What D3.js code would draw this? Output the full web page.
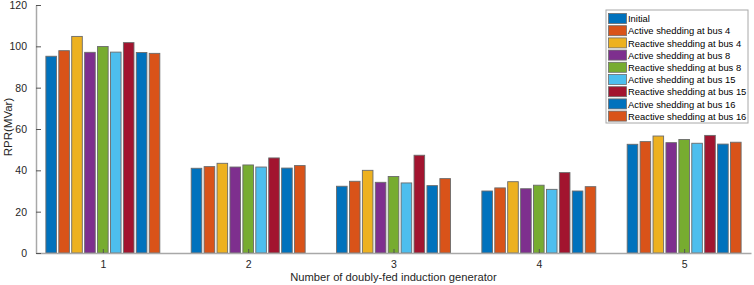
<!DOCTYPE html>
<html>
<head>
<meta charset="utf-8">
<script src="https://cdn.jsdelivr.net/npm/d3@7"></script>
<style>
  body { margin: 0; background: #fff; }
  svg { display: block; font-family: Arial, "Liberation Sans", sans-serif; }
</style>
</head>
<body>
<svg id="chart"></svg>
<script>
// Groups on the x axis
const groups = [1, 2, 3, 4, 5];

// Series names (legend order)
const series = [
    "Initial",
    "Active shedding at bus 4",
    "Reactive shedding at bus 4",
    "Active shedding at bus 8",
    "Reactive shedding at bus 8",
    "Active shedding at bus 15",
    "Reactive shedding at bus 15",
    "Active shedding at bus 16",
    "Reactive shedding at bus 16"
];

// Values per series, one per group
const initial   = [95.2, 41.0, 32.3, 30.0, 52.6];
const active4   = [97.9, 41.8, 34.7, 31.5, 53.9];
const reactive4 = [104.8, 43.4, 40.0, 34.5, 56.6];
const active8   = [97.1, 41.6, 34.2, 31.1, 53.4];
const reactive8 = [99.9, 42.6, 37.0, 32.8, 54.9];
const active15  = [97.2, 41.6, 33.9, 30.8, 53.1];
const reactive15 = [101.8, 46.0, 47.3, 38.9, 56.9];
const active16  = [97.0, 41.1, 32.6, 30.0, 52.7];
const reactive16 = [96.6, 42.3, 36.0, 32.1, 53.6];

const yTicks = [0, 20, 40, 60, 80, 100, 120];

const values = [initial, active4, reactive4, active8, reactive8,
                active15, reactive15, active16, reactive16];

const colors = ["#0072BD", "#D95319", "#EDB120", "#7E2F8E", "#77AC30",
                "#4DBEEE", "#A2142F", "#0072BD", "#D95319"];

const width = 754;
const height = 285;
const marginLeft = 36;
const marginRight = 3;
const marginTop = 5;
const marginBottom = 32;

const svg = d3.select("#chart")
    .attr("width", width)
    .attr("height", height)
    .attr("viewBox", [0, 0, width, height]);

const x = d3.scaleLinear()
    .domain([0.54, 5.46])
    .range([marginLeft, width - marginRight]);

const y = d3.scaleLinear()
    .domain([0, 120])
    .range([height - marginBottom, marginTop]);

const groupWidth = x(1.8) - x(1);
const x1 = d3.scaleBand()
    .domain(series)
    .range([0, groupWidth])
    .paddingInner(0.18)
    .paddingOuter(0.09);

const color = d3.scaleOrdinal().domain(series).range(colors);

// Bars
const rows = [];
series.forEach((s, si) => {
    groups.forEach((g, gi) => rows.push({ s, g, v: values[si][gi] }));
});

svg.append("g")
  .selectAll("rect")
  .data(rows)
  .join("rect")
    .attr("x", d => x(d.g) - groupWidth / 2 + x1(d.s))
    .attr("y", d => y(d.v))
    .attr("width", x1.bandwidth())
    .attr("height", d => y(0) - y(d.v))
    .attr("fill", d => color(d.s))
    .attr("stroke", "#6b6b6b")
    .attr("stroke-width", 0.9);

// Axes
const xAxis = svg.append("g")
    .attr("transform", `translate(0,${y(0)})`)
    .call(d3.axisBottom(x).tickValues(groups).tickFormat(d3.format("d"))
        .tickSizeInner(-4).tickSizeOuter(0).tickPadding(8));

const yAxis = svg.append("g")
    .attr("transform", `translate(${marginLeft},0)`)
    .call(d3.axisLeft(y).tickValues(yTicks)
        .tickSizeInner(-5).tickSizeOuter(0).tickPadding(9));

[xAxis, yAxis].forEach(g => {
    g.select(".domain").attr("stroke", "#a8a8a8").attr("stroke-width", 1.5);
    g.selectAll(".tick line").attr("stroke", "#555");
    g.selectAll(".tick text")
        .attr("fill", "#262626")
        .attr("font-size", 10.5)
        .attr("font-family", "Arial, 'Liberation Sans', sans-serif");
});

// Axis titles
svg.append("text")
    .attr("x", x(3))
    .attr("y", height - 4)
    .attr("text-anchor", "middle")
    .attr("font-size", 11.2)
    .attr("fill", "#262626")
    .text("Number of doubly-fed induction generator");

svg.append("text")
    .attr("transform", "translate(12,127) rotate(-90)")
    .attr("text-anchor", "middle")
    .attr("font-size", 11.5)
    .attr("fill", "#262626")
    .text("RPR(MVar)");

// Legend
const legend = svg.append("g")
    .attr("transform", "translate(606,10)");

legend.append("rect")
    .attr("width", 142)
    .attr("height", 113)
    .attr("fill", "#fff")
    .attr("stroke", "#a8a8a8")
    .attr("stroke-width", 1);

const items = legend.selectAll("g.item")
  .data(series)
  .join("g")
    .attr("class", "item")
    .attr("transform", (d, i) => `translate(0,${8.5 + i * 12.2})`);

items.append("rect")
    .attr("x", 2.5)
    .attr("y", -5)
    .attr("width", 18)
    .attr("height", 10)
    .attr("fill", d => color(d))
    .attr("stroke", "#6b6b6b")
    .attr("stroke-width", 0.8);

items.append("text")
    .attr("x", 22)
    .attr("y", 3.7)
    .attr("font-size", 9.4)
    .attr("fill", "#000")
    .text(d => d);
</script>
</body>
</html>
